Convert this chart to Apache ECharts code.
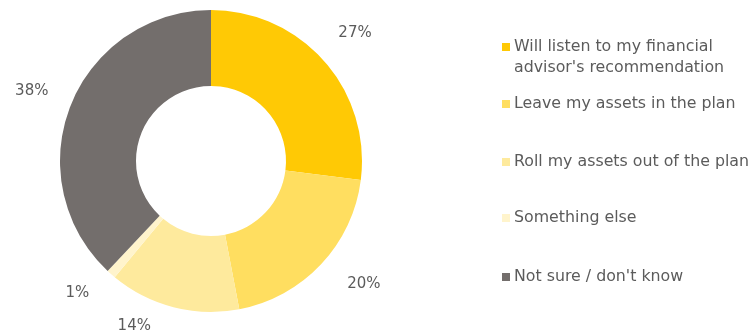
<!DOCTYPE html>
<html>
<head>
<meta charset="utf-8">
<script src="https://cdn.jsdelivr.net/npm/echarts@6/dist/echarts.min.js"></script>
<style>
  html, body { margin: 0; padding: 0; background: #fff; }
  #chart { width: 755px; height: 333px; }
</style>
</head>
<body>
<div id="chart"></div>
<script>
// Survey answers and their shares (%)
const categories = [
  "Will listen to my financial\nadvisor's recommendation",
  "Leave my assets in the plan",
  "Roll my assets out of the plan",
  "Something else",
  "Not sure / don't know"
];
const shares = [27, 20, 14, 1, 38];
const colors = ['#FFC905', '#FFDE60', '#FEEA9D', '#FFF4CC', '#736E6C'];

// Vertical placement of each legend entry (icon centre, px)
const legendRows = [47, 104, 162, 218, 277];
// Small nudges for labels near the bottom edge
const labelNudge = [[-3, 2], [10, -11], [-28, -25], [-4, -15], [3, 2]];

const font = '"DejaVu Sans", sans-serif';
const textColor = '#5b5b5b';
const center = [211, 161];
const lineH = 21;

const data = categories.map((name, i) => ({
  name, value: shares[i], itemStyle: { color: colors[i] }
}));

const legends = categories.map((name, i) => {
  const multi = name.indexOf('\n') >= 0;
  return {
    orient: 'vertical',
    left: 502,
    top: legendRows[i] - (multi ? lineH * 1.5 : lineH / 2),
    padding: 0,
    itemWidth: 8,
    itemHeight: 8,
    itemGap: 0,
    icon: 'rect',
    selectedMode: false,
    data: [name],
    // two-line entry: a leading blank line keeps the first line level with the swatch
    formatter: (n) => (multi ? '\n' + n : n),
    textStyle: {
      fontFamily: font, fontSize: 15.8, color: textColor, lineHeight: lineH,
      padding: [0, 0, 0, -1]
    }
  };
});

const chart = echarts.init(document.getElementById('chart'), null, { renderer: 'canvas' });
chart.setOption({
  animation: false,
  legend: legends,
  series: [
    {
      type: 'pie',
      center,
      radius: [75, 151],
      startAngle: 90,
      clockwise: true,
      label: { show: false },
      labelLine: { show: false },
      emphasis: { disabled: true },
      data
    },
    {
      // transparent ring carrying the percentage labels
      type: 'pie',
      center,
      radius: [186, 200],
      startAngle: 90,
      clockwise: true,
      silent: true,
      legendHoverLink: false,
      itemStyle: { color: 'rgba(0,0,0,0)' },
      label: {
        show: true,
        position: 'inside',
        formatter: '{c}%',
        fontFamily: font,
        fontSize: 15,
        color: textColor
      },
      labelLayout: (p) => ({ dx: labelNudge[p.dataIndex][0], dy: labelNudge[p.dataIndex][1] }),
      labelLine: { show: false },
      emphasis: { disabled: true },
      data: categories.map((name, i) => ({ name: name + ' ', value: shares[i] }))
    }
  ]
});
</script>
</body>
</html>
